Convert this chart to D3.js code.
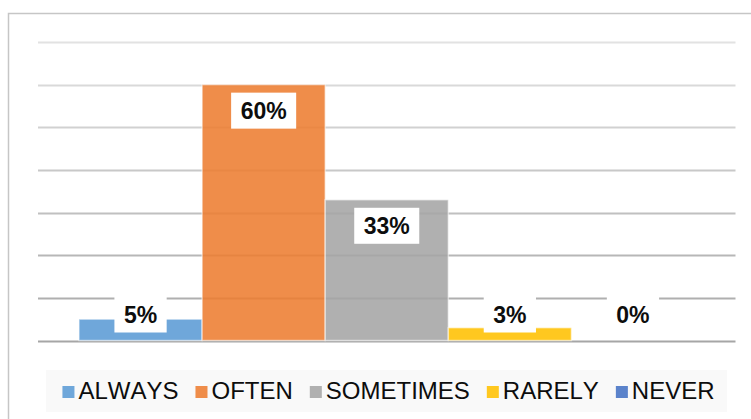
<!DOCTYPE html>
<html>
<head>
<meta charset="utf-8">
<script src="https://cdn.jsdelivr.net/npm/d3@7"></script>
<style>
  body { margin: 0; background: #fff; }
  svg { display: block; font-family: Arial, 'Liberation Sans', sans-serif; font-kerning: none; }
</style>
</head>
<body>
<div id="chart"></div>
<script>
// data
const categories = ['ALWAYS', 'OFTEN', 'SOMETIMES', 'RARELY', 'NEVER'];
const values = [5, 60, 33, 3, 0];
const valueLabels = ['5%', '60%', '33%', '3%', '0%'];
const yTicks = [0, 10, 20, 30, 40, 50, 60, 70];

const colors = ['#5b9bd5', '#ed7d31', '#a5a5a5', '#ffc000', '#4472c4'];

const width = 751, height = 419;

const svg = d3.select('#chart')
  .append('svg')
  .attr('width', width)
  .attr('height', height);

// outer chart border (only top and left are visible in the frame)
svg.append('rect')
  .attr('x', 8.5)
  .attr('y', 13.5)
  .attr('width', 800)
  .attr('height', 500)
  .attr('fill', 'none')
  .attr('stroke', '#c6c6c6')
  .attr('stroke-width', 1.5);

// scales
const x = d3.scaleBand()
  .domain(categories)
  .range([38, 735.5])
  .paddingInner(0)
  .paddingOuter(0.333);

const y = d3.scaleLinear()
  .domain([0, 70])
  .range([340.5, 42]);

// gridlines (get slightly darker towards the bottom in the reference)
const gridColor = d3.scaleLinear().domain([70, 0]).range(['#e2e2e2', '#a6a6a6']);
svg.append('g')
  .selectAll('line')
  .data(yTicks)
  .join('line')
  .attr('x1', 38)
  .attr('x2', 735.5)
  .attr('y1', d => Math.round(y(d)) + 0.5)
  .attr('y2', d => Math.round(y(d)) + 0.5)
  .attr('stroke', d => gridColor(d))
  .attr('stroke-width', 2);

// bars
svg.append('g')
  .selectAll('rect')
  .data(categories)
  .join('rect')
  .attr('x', d => x(d))
  .attr('width', x.bandwidth())
  .attr('y', (d, i) => y(values[i]))
  .attr('height', (d, i) => y(0) - y(values[i]))
  .attr('fill', (d, i) => colors[i])
  .attr('fill-opacity', 0.88)
  .attr('stroke', '#fff')
  .attr('stroke-opacity', 0.5)
  .attr('stroke-width', 1.5);

// value labels with white boxes
const labels = svg.append('g')
  .selectAll('g')
  .data(categories)
  .join('g')
  .attr('transform', (d, i) => {
    const cy = Math.min(y(values[i]) + 26, y(0) - 26);
    return 'translate(' + (x(d) + x.bandwidth() / 2) + ',' + cy + ')';
  });

labels.append('rect').attr('fill', '#fff');
labels.append('text')
  .attr('text-anchor', 'middle')
  .attr('y', 8.5)
  .attr('font-size', '23px')
  .attr('font-weight', 'bold')
  .attr('fill', '#0d0d0d')
  .text((d, i) => valueLabels[i]);

labels.each(function() {
  const g = d3.select(this);
  const w = g.select('text').node().getComputedTextLength() + 19;
  g.select('rect')
    .attr('x', -w / 2)
    .attr('y', -18)
    .attr('width', w)
    .attr('height', 36);
});

// legend
const legend = svg.append('g');
legend.append('rect')
  .attr('x', 46)
  .attr('y', 370)
  .attr('width', 681)
  .attr('height', 42)
  .attr('fill', '#f9f9f9');

const items = legend.selectAll('g')
  .data(categories)
  .join('g');

items.append('rect')
  .attr('y', 386)
  .attr('width', 12)
  .attr('height', 12)
  .attr('fill', (d, i) => colors[i])
  .attr('fill-opacity', 0.88);

items.append('text')
  .attr('x', 16)
  .attr('y', 399)
  .attr('font-size', '24px')
  .attr('fill', '#0d0d0d')
  .text(d => d);

let offsets = [];
let cursor = 0;
items.each(function() {
  const tw = d3.select(this).select('text').node().getComputedTextLength();
  offsets.push(cursor);
  cursor += 16 + tw + 17;
});
const total = cursor - 17;
const start = 388.5 - total / 2;
items.attr('transform', (d, i) => 'translate(' + (start + offsets[i]) + ',0)');
</script>
</body>
</html>
